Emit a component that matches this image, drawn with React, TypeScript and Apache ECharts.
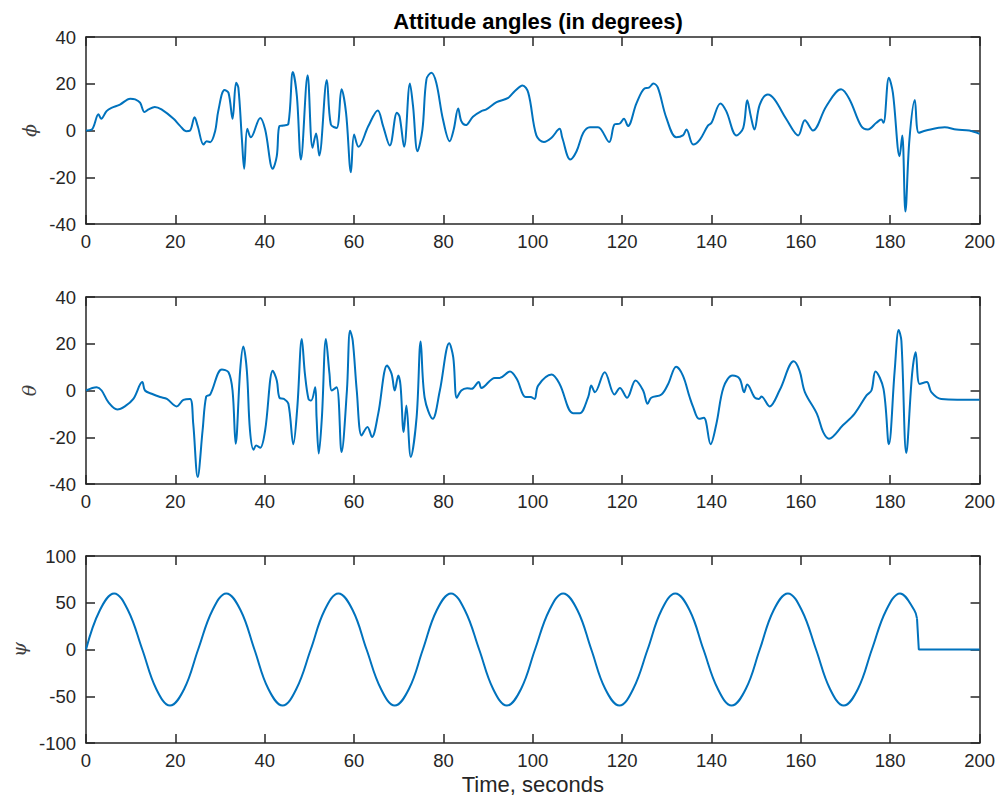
import React, { useEffect, useRef } from "react";
import * as echarts from "echarts";

const X_TICKS_MIN = 0;
const X_TICKS_MAX = 200;
const X_TICK_STEP = 20;

const PHI_T = [0, 1.3, 2.8, 3.4, 4.6, 5.7, 7.6, 9.9, 11, 12.1, 13.1, 14, 15.4, 16.9, 19.6, 21, 22.4, 23.3, 24.3, 25, 26.3, 27, 27.8, 28.9, 29.6, 31, 31.9, 32.8, 33.6, 34.1, 34.9, 35.4, 36.1, 36.9, 39, 40.1, 41.8, 42.7, 43.3, 44.2, 45.3, 46.3, 47.2, 48.1, 49.6, 50.7, 51.5, 52.2, 53.9, 54.8, 56.1, 57.2, 58.2, 59.3, 60, 61, 63.2, 65.3, 66.5, 68, 69.6, 70.2, 71.2, 72.5, 73.2, 74.2, 75.3, 76.2, 77.3, 78.4, 79.9, 81.4, 82.3, 83.3, 84, 85, 86.6, 88.5, 89.6, 91.9, 94.5, 96, 97.7, 99, 100.8, 102.5, 104.2, 106, 106.6, 108.4, 109.8, 111.3, 112.8, 114.6, 117.1, 118.3, 119.5, 120.4, 121.3, 123.2, 125, 126, 127, 128, 129.9, 132.1, 133.6, 134.4, 135.9, 137.4, 139.2, 140, 142, 143.3, 145.6, 147.1, 148, 148.8, 149.6, 150.8, 152.6, 154.1, 156.8, 159.4, 160.9, 162.7, 165.7, 169, 170.9, 173.5, 175, 176.9, 178, 178.5, 179.7, 180.6, 182.1, 182.7, 183.4, 184.3, 185.5, 186.4, 188, 192.2, 194.8, 197.7, 200];
const PHI_V = [0, 0.4, 6.9, 5, 8.3, 9.7, 11.1, 13.6, 13.3, 11.9, 7.9, 9, 10.1, 9, 5, 2.1, -0.3, 0, 5.7, 1.9, -6, -4.6, -5, -0.3, 8.3, 17.3, 16.1, 5, 20.4, 18.3, -3.9, -16.4, 0.7, -2.9, 5.4, 0.4, -16.4, -11, 1.9, 2.1, 2.9, 25, 14.7, -12.4, 23.6, -7.4, -1.3, -10.7, 21.6, 2.6, 1.1, 17.6, 7.6, -17.9, -1.7, -7, 1.9, 8.6, 1.9, -6.4, 7.6, 5.9, -7, 20.1, 10.4, -8.9, 0.4, 21.9, 24.7, 20.4, 4.7, -4.6, 0.4, 9.4, 4, 2.3, 5.9, 8.3, 9, 12.1, 14, 16.9, 19.3, 16.1, -2.1, -4.9, -3.1, 0.7, -3.1, -12.4, -8.9, -1, 1.4, 1.4, -4.9, 2.6, 3, 5, 1.9, 11.6, 18, 18.3, 20.1, 18.3, 5.4, -2.9, -2.1, 0.4, -6, -3.9, 2.1, 3.3, 11.6, 8.3, -2.1, 1.1, 12.9, 6.1, 0.4, 11.1, 15.4, 13.3, 4.7, -2.1, 4.4, 0, 10.4, 17.6, 13.3, 1.9, 0.4, 3.3, 4.7, 3.3, 22.6, 16.1, -11, -2.1, -34.6, -3.9, 13, -1, 0, 1.4, 0.4, 0, -1.4];

const THETA_T = [0, 2.4, 3.5, 5, 7, 8.7, 10.6, 12.6, 13.2, 14.7, 16.6, 18.1, 20.3, 21.8, 23.3, 24, 25, 26.1, 26.9, 27.8, 30.4, 31.9, 32.8, 33.5, 34.5, 35.2, 36, 36.7, 37.5, 38.1, 39, 40.1, 41.8, 42.7, 43.3, 44.3, 45.3, 46.4, 47.3, 48.3, 49, 49.8, 50.4, 51.3, 51.6, 52.1, 52.8, 53.7, 54.5, 55, 56.1, 57.2, 58.4, 59.1, 59.7, 60.6, 61.7, 63, 64, 65.4, 67.4, 68.4, 69.1, 69.9, 70.4, 71.1, 71.7, 72.7, 74, 74.9, 75.8, 77.6, 79.2, 81.3, 82.2, 83, 84, 85.3, 86.3, 87.9, 88.5, 91.5, 92.6, 94.9, 96.4, 98.4, 99.5, 100.4, 101.2, 104.2, 106, 109, 110.5, 112.4, 113.1, 113.9, 116.1, 118.3, 119.5, 121.1, 123, 124.7, 125.7, 126.5, 128.8, 130.3, 132.1, 133.6, 135.1, 135.9, 137.2, 138.3, 139.8, 141.1, 142.7, 144.7, 146.3, 147.3, 148, 149.7, 150.6, 151.2, 153, 155.3, 158.4, 159.7, 160.9, 163.6, 165, 166.3, 169.4, 172, 174.7, 175.8, 176.7, 178.5, 179.7, 181, 181.9, 182.5, 183.6, 184.9, 185.7, 186.6, 188.2, 189.2, 191.4, 200];
const THETA_V = [0, 1.4, 0, -5, -8.1, -6.8, -3.6, 3.6, 0, -1.4, -2.8, -3.6, -6.8, -4, -3.6, -14.2, -37, -17, -2.6, -1.7, 9, 7.8, 0, -22.8, 8.5, 18.8, 8.5, -17, -25.3, -23.5, -24.5, -17, 8.5, 4.3, -3.1, -3.6, -5.7, -23, -7.1, 22, 7.1, -3.6, -4.3, 1.4, -11.4, -27, -11.4, 22, 7.1, 0, 1.4, -26.3, 0, 25.6, 21.3, 0, -19.2, -15.6, -19.9, -10, 10.7, 7.1, 0, 6.4, 2.1, -17.8, -6.4, -28.4, -11.4, 21, -3.1, -12.1, 0, 20.2, 14.2, -3.1, 0, 1, 0.7, 3.6, 1.1, 5.4, 5.4, 8.1, 5, -2.8, -2.8, -3.6, 2.1, 6.8, 2.8, -9.7, -9.7, -2.8, 2.1, -0.7, 7.8, -1.7, 1.1, -3.1, 4.3, 0, -5.7, -3.1, -1.7, 2.8, 10.2, 6.4, -2.8, -7.1, -12.1, -11.7, -23, -14.2, 1.4, 6.4, 5, -0.7, 2.6, -3.1, -3.6, -2.6, -6.8, 0.3, 12.5, 8.5, -0.7, -10, -17.8, -20.6, -14.9, -10, -2.1, 0, 8.1, 0.7, -23, 8.5, 25.9, 21.3, -26.7, 7.1, 16.4, 2.8, 3.6, -0.7, -3.6, -4];

const PSI_T = [0, 3.1, 6.3, 9.4, 12.6, 15.7, 18.8, 22.0, 25.1, 28.3, 31.4, 34.6, 37.7, 40.8, 44.0, 47.1, 50.3, 53.4, 56.5, 59.7, 62.8, 66.0, 69.1, 72.3, 75.4, 78.5, 81.7, 84.8, 88.0, 91.1, 94.2, 97.4, 100.5, 103.7, 106.8, 110.0, 113.1, 116.2, 119.4, 122.5, 125.7, 128.8, 131.9, 135.1, 138.2, 141.4, 144.5, 147.7, 150.8, 153.9, 157.1, 160.2, 163.4, 166.5, 169.6, 172.8, 175.9, 179.1, 182.2, 185.4, 186.0];
const PSI_V = [0, 42, 60, 42, 0, -42, -60, -42, 0, 42, 60, 42, 0, -42, -60, -42, 0, 42, 60, 42, 0, -42, -60, -42, 0, 42, 60, 42, 0, -42, -60, -42, 0, 42, 60, 42, 0, -42, -60, -42, 0, 42, 60, 42, 0, -42, -60, -42, 0, 42, 60, 42, 0, -42, -60, -42, 0, 42, 60, 42, 33];
const PSI_TAIL_T = [186.0, 186.4, 200];
const PSI_TAIL_V = [33, 0, 0];

const Y_LIMITS = [
  { min: -40, max: 40, step: 20, name: "\u03D5" },
  { min: -40, max: 40, step: 20, name: "\u03B8" },
  { min: -100, max: 100, step: 50, name: "\u03C8" },
];

const GRID_TOPS = [37, 297, 556];
const GRID_HEIGHT = 187;

const zip = (t: number[], v: number[]) => t.map((x, i) => [x, v[i]]);

const AXIS_COLOR = "#262626";
const FONT = "'Liberation Sans', Arial, Helvetica, sans-serif";
const LINE_COLOR = "#0072BD";

export default function App() {
  const ref = useRef<HTMLDivElement>(null);
  useEffect(() => {
    if (!ref.current) return;
    const chart = echarts.init(ref.current, undefined, { renderer: "svg" });
    const axisLine = { show: true, onZero: false, lineStyle: { color: AXIS_COLOR, width: 1.5 } };
    const axisTick = { show: true, inside: true, length: 9, lineStyle: { color: AXIS_COLOR, width: 1.5 } };
    const grids = GRID_TOPS.map((top) => ({ left: 86, width: 894, top, height: GRID_HEIGHT, containLabel: false }));
    const xAxes: any[] = [];
    const yAxes: any[] = [];
    GRID_TOPS.forEach((_, i) => {
      const base = {
        type: "value",
        gridIndex: i,
        min: X_TICKS_MIN,
        max: X_TICKS_MAX,
        interval: X_TICK_STEP,
        splitLine: { show: false },
        axisLine,
        axisTick,
      };
      xAxes.push({
        ...base,
        position: "bottom",
        axisLabel: { show: true, color: AXIS_COLOR, fontSize: 18.5, fontFamily: FONT, margin: 8 },
        ...(i === 2
          ? {
              name: "Time, seconds",
              nameLocation: "middle",
              nameGap: 30,
              nameTextStyle: { color: AXIS_COLOR, fontSize: 22, fontFamily: FONT },
            }
          : {}),
      });
      xAxes.push({ ...base, position: "top", axisLabel: { show: false } });
      const yl = Y_LIMITS[i];
      const ybase = {
        type: "value",
        gridIndex: i,
        min: yl.min,
        max: yl.max,
        interval: yl.step,
        splitLine: { show: false },
        axisLine,
        axisTick,
      };
      yAxes.push({
        ...ybase,
        position: "left",
        axisLabel: { show: true, color: AXIS_COLOR, fontSize: 18.5, fontFamily: FONT, margin: 10 },
        name: yl.name,
        nameLocation: "middle",
        nameGap: 47,
        nameRotate: 90,
        nameTextStyle: { color: "#404040", fontSize: 19, fontStyle: "italic", fontFamily: "'DejaVu Serif', 'Liberation Serif', serif" },
      });
      yAxes.push({ ...ybase, position: "right", axisLabel: { show: false } });
    });
    const lineSeries = (data: number[][], i: number, smooth: number | boolean) => ({
      type: "line",
      xAxisIndex: i * 2,
      yAxisIndex: i * 2,
      data,
      smooth,
      symbol: "none",
      lineStyle: { color: LINE_COLOR, width: 2 },
      itemStyle: { color: LINE_COLOR },
      clip: true,
    });
    chart.setOption({
      animation: false,
      backgroundColor: "#ffffff",
      title: {
        text: "Attitude angles (in degrees)",
        left: 533,
        top: 5,
        textAlign: "center",
        textStyle: { color: "#000", fontSize: 22, fontWeight: "bold", fontFamily: FONT },
      },
      grid: grids,
      xAxis: xAxes,
      yAxis: yAxes,
      series: [
        lineSeries(zip(PHI_T, PHI_V), 0, 0.35),
        lineSeries(zip(THETA_T, THETA_V), 1, 0.35),
        lineSeries(zip(PSI_T, PSI_V), 2, 0.4),
        lineSeries(zip(PSI_TAIL_T, PSI_TAIL_V), 2, false),
      ],
    });
    return () => chart.dispose();
  }, []);
  return (
    <div
      ref={ref}
      style={{ position: "absolute", left: 0, top: 0, width: 998, height: 801, background: "#fff" }}
    />
  );
}
